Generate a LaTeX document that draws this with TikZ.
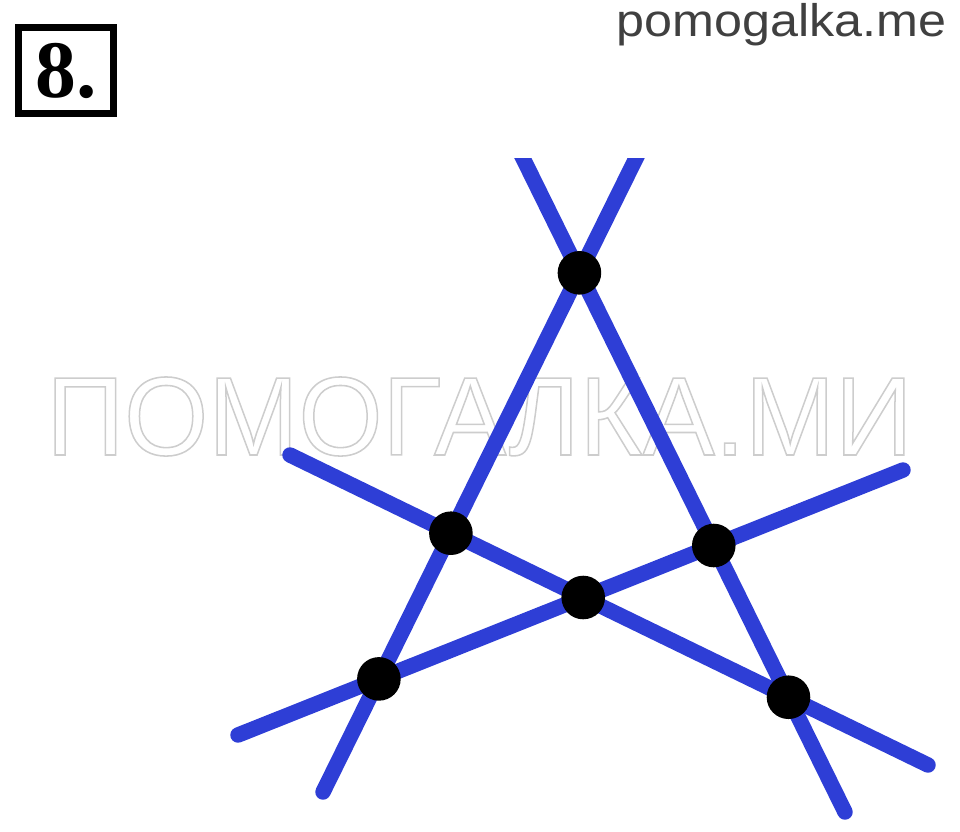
\documentclass[tikz,border=0pt]{standalone}
\usepackage{fontspec}
\newfontfamily\wmfont{Liberation Sans}
\newfontfamily\numfont{Liberation Serif}
\definecolor{lineblue}{RGB}{46,62,214}
\definecolor{wmgray}{RGB}{205,205,205}
\definecolor{sitegray}{RGB}{64,64,64}
\tikzset{
  bluel/.style={draw=lineblue, line width=11pt, line cap=round},
  dot/.style={circle, fill=black, inner sep=0pt, minimum size=31pt},
}
\begin{document}
\begin{tikzpicture}[x=0.025cm, y=-0.025cm]
\useasboundingbox (0,0) rectangle (960,831);
% header
\node[anchor=base east, inner sep=0pt, text=sitegray] (site) at (947,36)
  {\scalebox{1.1}[1]{\wmfont\fontsize{32.5pt}{34pt}\selectfont pomogalka.me}};
\draw[line width=5pt] (18.5,27.5) rectangle (113.5,113.5);
\node[anchor=base west, inner sep=0pt] (num) at (35,97)
  {\numfont\bfseries\fontsize{58pt}{60pt}\selectfont 8.};
% watermark (outlined text)
\node[anchor=base west, inner sep=0pt, text=wmgray] (wm) at (46,455)
  {\scalebox{0.968}[1]{\special{pdf:literal direct 1 Tr 1.1 w}\wmfont\fontsize{79.5pt}{82pt}\selectfont ПОМОГАЛКА.МИ\special{pdf:literal direct 0 Tr}}};
% line ends
\coordinate (a1) at (514,140);
\coordinate (a2) at (845,812);
\coordinate (b1) at (645,140);
\coordinate (b2) at (323,792);
\coordinate (c1) at (290,455);
\coordinate (c2) at (928,765);
\coordinate (d1) at (238,735);
\coordinate (d2) at (903,470);
\begin{scope}
\clip (0,158) rectangle (960,831);
\draw[bluel] (a1) -- (a2);
\draw[bluel] (b1) -- (b2);
\draw[bluel] (c1) -- (c2);
\draw[bluel] (d1) -- (d2);
\end{scope}
\node[dot] (p1) at (intersection of a1--a2 and b1--b2) {};
\node[dot] (p2) at (intersection of b1--b2 and c1--c2) {};
\node[dot] (p3) at (intersection of c1--c2 and d1--d2) {};
\node[dot] (p4) at (intersection of a1--a2 and d1--d2) {};
\node[dot] (p5) at (intersection of a1--a2 and c1--c2) {};
\node[dot] (p6) at (intersection of b1--b2 and d1--d2) {};
\end{tikzpicture}
\end{document}
